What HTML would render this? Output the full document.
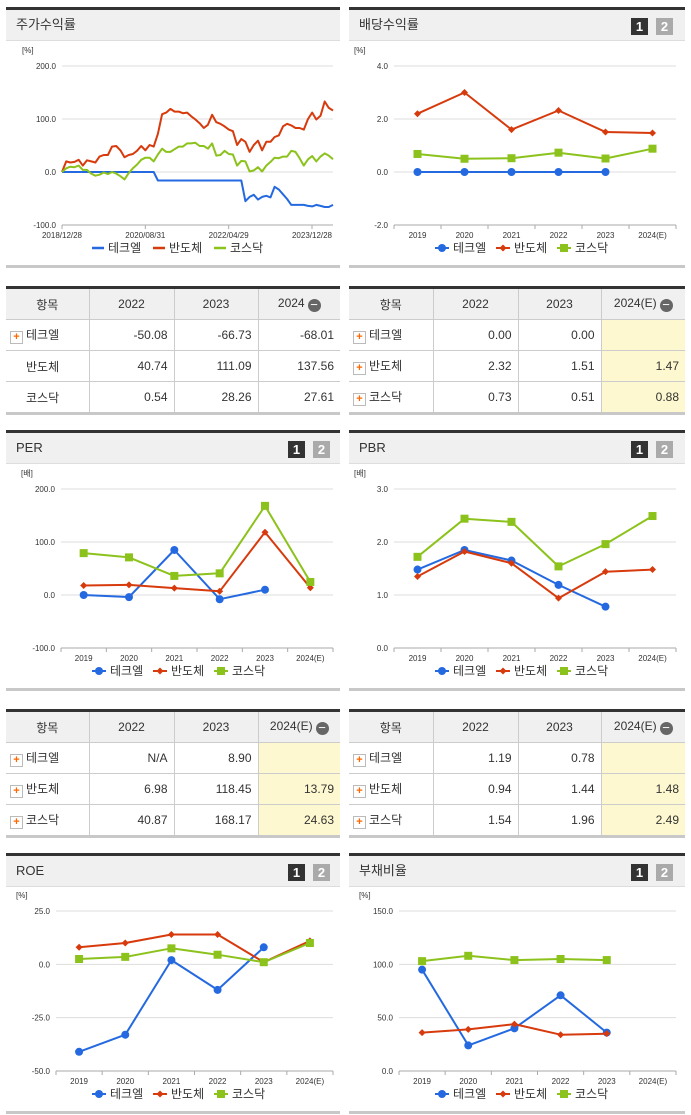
<!DOCTYPE html>
<html><head><meta charset="utf-8">
<style>
body{margin:0;width:691px;height:1115px;background:#fff;position:relative;overflow:hidden;font-family:"Liberation Sans","Noto Sans CJK KR",sans-serif;color:#333}
.hdr{position:absolute;height:30px;background:#f0f0f0;border-top:3px solid #333;border-bottom:1px solid #ddd;font-size:13px;line-height:30px;padding-left:10px;box-sizing:content-box}
.pb{position:absolute;top:8px;width:17px;height:17px;color:#fff;font-weight:bold;font-size:13px;line-height:17px;text-align:center}
.bot{position:absolute;height:3px;background:#c8c8c8}
table{position:absolute;border-collapse:collapse;table-layout:fixed;font-size:12px;border-top:3px solid #333;border-bottom:3px solid #c8c8c8}
td,th{border:1px solid #ccc;height:30px;padding:0 6px;font-weight:normal;white-space:nowrap;overflow:hidden}
th{background:#f0f0f0;text-align:center}
td{text-align:right}
td.n{text-align:left;padding-left:4px}
td.y{background:#fdf8cf}
tr>*:first-child{border-left:none}tr>*:last-child{border-right:none}
.pl{display:inline-block;width:11px;height:11px;border:1px solid #bbb;background:#fff;color:#f60;font-size:11px;line-height:11px;text-align:center;vertical-align:-1px;margin-right:3px;font-weight:bold}
.mi{display:inline-block;width:13px;height:13px;border-radius:7px;background:#666;color:#fff;line-height:12px;font-size:13px;vertical-align:-2px;margin-left:3px}
</style></head><body>
<div class="hdr" style="left:6px;top:7px;width:324px">주가수익률</div>
<div class="hdr" style="left:349px;top:7px;width:326px">배당수익률<div class="pb" style="left:282px;background:#333">1</div><div class="pb" style="left:307px;background:#aaa">2</div></div>
<div class="hdr" style="left:6px;top:430px;width:324px">PER<div class="pb" style="left:282px;background:#333">1</div><div class="pb" style="left:307px;background:#aaa">2</div></div>
<div class="hdr" style="left:349px;top:430px;width:326px">PBR<div class="pb" style="left:282px;background:#333">1</div><div class="pb" style="left:307px;background:#aaa">2</div></div>
<div class="hdr" style="left:6px;top:853px;width:324px">ROE<div class="pb" style="left:282px;background:#333">1</div><div class="pb" style="left:307px;background:#aaa">2</div></div>
<div class="hdr" style="left:349px;top:853px;width:326px">부채비율<div class="pb" style="left:282px;background:#333">1</div><div class="pb" style="left:307px;background:#aaa">2</div></div>
<div class="bot" style="left:6px;top:265px;width:334px"></div><div class="bot" style="left:349px;top:265px;width:336px"></div>
<div class="bot" style="left:6px;top:688px;width:334px"></div><div class="bot" style="left:349px;top:688px;width:336px"></div>
<div class="bot" style="left:6px;top:1111px;width:334px"></div><div class="bot" style="left:349px;top:1111px;width:336px"></div>

<table style="left:6px;top:286px;width:334px">
<colgroup><col style="width:83px"><col style="width:85px"><col style="width:84px"><col style="width:82px"></colgroup>
<tr><th>항목</th><th>2022</th><th>2023</th><th>2024<span class="mi">−</span></th></tr>
<tr><td class="n"><span class="pl">+</span>테크엘</td><td>-50.08</td><td>-66.73</td><td>-68.01</td></tr>
<tr><td class="n" style="padding-left:20px">반도체</td><td>40.74</td><td>111.09</td><td>137.56</td></tr>
<tr><td class="n" style="padding-left:20px">코스닥</td><td>0.54</td><td>28.26</td><td>27.61</td></tr></table>
<table style="left:349px;top:286px;width:336px">
<colgroup><col style="width:84px"><col style="width:85px"><col style="width:83px"><col style="width:84px"></colgroup>
<tr><th>항목</th><th>2022</th><th>2023</th><th>2024(E)<span class="mi">−</span></th></tr>
<tr><td class="n"><span class="pl">+</span>테크엘</td><td>0.00</td><td>0.00</td><td class="y"></td></tr>
<tr><td class="n"><span class="pl">+</span>반도체</td><td>2.32</td><td>1.51</td><td class="y">1.47</td></tr>
<tr><td class="n"><span class="pl">+</span>코스닥</td><td>0.73</td><td>0.51</td><td class="y">0.88</td></tr></table>
<table style="left:6px;top:709px;width:334px">
<colgroup><col style="width:83px"><col style="width:85px"><col style="width:84px"><col style="width:82px"></colgroup>
<tr><th>항목</th><th>2022</th><th>2023</th><th>2024(E)<span class="mi">−</span></th></tr>
<tr><td class="n"><span class="pl">+</span>테크엘</td><td>N/A</td><td>8.90</td><td class="y"></td></tr>
<tr><td class="n"><span class="pl">+</span>반도체</td><td>6.98</td><td>118.45</td><td class="y">13.79</td></tr>
<tr><td class="n"><span class="pl">+</span>코스닥</td><td>40.87</td><td>168.17</td><td class="y">24.63</td></tr></table>
<table style="left:349px;top:709px;width:336px">
<colgroup><col style="width:84px"><col style="width:85px"><col style="width:83px"><col style="width:84px"></colgroup>
<tr><th>항목</th><th>2022</th><th>2023</th><th>2024(E)<span class="mi">−</span></th></tr>
<tr><td class="n"><span class="pl">+</span>테크엘</td><td>1.19</td><td>0.78</td><td class="y"></td></tr>
<tr><td class="n"><span class="pl">+</span>반도체</td><td>0.94</td><td>1.44</td><td class="y">1.48</td></tr>
<tr><td class="n"><span class="pl">+</span>코스닥</td><td>1.54</td><td>1.96</td><td class="y">2.49</td></tr></table>

<svg id="s" width="691" height="1115" style="position:absolute;left:0;top:0" font-family="Liberation Sans, Noto Sans CJK KR, sans-serif"></svg>
<script>
const priceRed=[0,20,18,19,23,12,22,20,18,29,32,32,48,49,41,28,32,34,40,49,41,51,48,72,109,112,119,114,114,111,112,105,99,92,83,89,108,94,91,86,80,77,51,62,57,38,51,59,41,57,57,66,69,86,91,88,83,83,80,100,112,99,106,133,121,116];
const priceGreen=[0,7,10,9,12,4,4,-3,-7,-5,-1,-4,0,-3,-8,-14,-2,7,14,23,27,27,20,33,44,38,38,43,48,48,54,54,55,49,49,44,54,31,32,40,34,33,12,21,20,1,3,9,1,12,19,27,26,29,29,40,38,26,12,24,30,20,29,35,31,24];
const priceBlue=[0,0,0,0,0,0,0,0,0,0,0,0,0,0,0,0,0,0,0,0,0,0,0,-16,-16,-16,-16,-16,-16,-16,-16,-16,-16,-16,-16,-16,-16,-16,-16,-16,-16,-16,-16,-16,-55,-47,-43,-52,-47,-45,-48,-28,-33,-42,-51,-62,-62,-62,-62,-64,-65,-62,-64,-66,-66,-62];
const priceTicks=["2018/12/28","2020/08/31","2022/04/29","2023/12/28"];
const years=["2019","2020","2021","2022","2023","2024(E)"];
const divBlue=[0,0,0,0,0,null],divRed=[2.2,3.0,1.6,2.32,1.51,1.47],divGreen=[0.68,0.5,0.52,0.73,0.51,0.88];
const perBlue=[0,-4,85,-8,10,null],perRed=[18,19,13,6.98,118.45,13.79],perGreen=[79,71,36,40.87,168.17,24.63];
const pbrBlue=[1.48,1.85,1.65,1.19,0.78,null],pbrRed=[1.35,1.82,1.6,0.94,1.44,1.48],pbrGreen=[1.72,2.44,2.38,1.54,1.96,2.49];
const roeBlue=[-41,-33,2,-12,8,null],roeRed=[8,10,14,14,1,11],roeGreen=[2.5,3.5,7.5,4.5,1,10];
const debtBlue=[95,24,40,71,36,null],debtRed=[36,39,44,34,35,null],debtGreen=[103,108,104,105,104,null];
const C={b:"#2469e0",r:"#d73a0c",g:"#8cc21c"};
const S=document.getElementById('s');const NS="http://www.w3.org/2000/svg";
function el(t,a,p){const e=document.createElementNS(NS,t);for(const k in a)e.setAttribute(k,a[k]);(p||S).appendChild(e);return e;}
function txt(x,y,s,sz,anchor,fill){const e=el('text',{x:x,y:y,'font-size':sz,'text-anchor':anchor||'start',fill:fill||'#333'});e.textContent=s;return e;}
function chart(o){
 const g=el('g',{});
 const ys=v=>o.top+(o.max-v)/(o.max-o.min)*(o.bot-o.top);
 txt(o.L-40,o.top-13,o.unit,8,'start');
 for(let i=0;i<o.ticks.length;i++){const v=o.ticks[i],y=ys(v);
  el('line',{x1:o.L,x2:o.R,y1:y,y2:y,stroke:i==o.ticks.length-1?'#aaa':'#ddd','stroke-width':1},g);
  txt(o.L-6,y+3,v.toFixed(1),8,'end');}
 el('line',{x1:o.L,x2:o.L,y1:o.bot,y2:o.bot+4,stroke:'#aaa'},g);
 let xs;
 if(o.cats){const w=(o.R-o.L)/o.cats.length;xs=i=>o.L+(i+0.5)*w;
  o.cats.forEach((c,i)=>{el('line',{x1:o.L+(i+1)*w,x2:o.L+(i+1)*w,y1:o.bot,y2:o.bot+4,stroke:'#aaa'},g);txt(xs(i),o.bot+13,c,8,'middle');});}
 else{const n=o.series[0].d.length;xs=i=>o.L+i*(o.R-o.L)/(n-1);
  o.tl.forEach((c,i)=>{const x=o.L+i*(o.R-o.L-21)/(o.tl.length-1);el('line',{x1:x,x2:x,y1:o.bot,y2:o.bot+4,stroke:'#aaa'},g);txt(x,o.bot+13,c,8,'middle');});}
 o.series.forEach(s=>{let pts=[];s.d.forEach((v,i)=>{if(v!==null)pts.push(xs(i).toFixed(1)+','+ys(v).toFixed(1));});
  const pl=el('polyline',{points:pts.join(' '),fill:'none',stroke:C[s.c],'stroke-width':2,'stroke-linejoin':'round'},g);
  
  if(o.cats)s.d.forEach((v,i)=>{if(v===null)return;const x=xs(i),y=ys(v);mark(s.c,x,y,g);});});
 const ly=o.bot+27;let lx=o.lx;
 o.series.forEach(s=>{if(o.cats){mark(s.c,lx+5,ly-4,g);el('line',{x1:lx-2,x2:lx+12,y1:ly-4,y2:ly-4,stroke:C[s.c],'stroke-width':2},g);}
  else el('line',{x1:lx,x2:lx+12,y1:ly-4,y2:ly-4,stroke:C[s.c],'stroke-width':2.5},g);
  txt(lx+16,ly,s.n,12,'start');lx+=61;});
}
function mark(c,x,y,g){let m;
 if(c=='b')m=el('circle',{cx:x,cy:y,r:4,fill:C.b},g);
 else if(c=='r')m=el('polygon',{points:`${x},${y-3.5} ${x+3.5},${y} ${x},${y+3.5} ${x-3.5},${y}`,fill:C.r},g);
 else m=el('rect',{x:x-4,y:y-4,width:8,height:8,fill:C.g},g);
 }
const names=["테크엘","반도체","코스닥"];
function ser(b,r,gr){return[{n:names[0],c:'b',d:b},{n:names[1],c:'r',d:r},{n:names[2],c:'g',d:gr}];}
chart({name:'stock-return-chart',L:62,R:333,top:66,bot:225,max:200,min:-100,ticks:[200,100,0,-100],unit:'[%]',tl:priceTicks,series:ser(priceBlue,priceRed,priceGreen),lx:92});
chart({name:'dividend-chart',L:394,R:676,top:66,bot:225,max:4,min:-2,ticks:[4,2,0,-2],unit:'[%]',cats:years,series:ser(divBlue,divRed,divGreen),lx:437});
chart({name:'per-chart',L:61,R:333,top:489,bot:648,max:200,min:-100,ticks:[200,100,0,-100],unit:'[배]',cats:years,series:ser(perBlue,perRed,perGreen),lx:94});
chart({name:'pbr-chart',L:394,R:676,top:489,bot:648,max:3,min:0,ticks:[3,2,1,0],unit:'[배]',cats:years,series:ser(pbrBlue,pbrRed,pbrGreen),lx:437});
chart({name:'roe-chart',L:56,R:333,top:911,bot:1071,max:25,min:-50,ticks:[25,0,-25,-50],unit:'[%]',cats:years,series:ser(roeBlue,roeRed,roeGreen),lx:94});
chart({name:'debt-ratio-chart',L:399,R:676,top:911,bot:1071,max:150,min:0,ticks:[150,100,50,0],unit:'[%]',cats:years,series:ser(debtBlue,debtRed,debtGreen),lx:437});
</script>
</body></html>
